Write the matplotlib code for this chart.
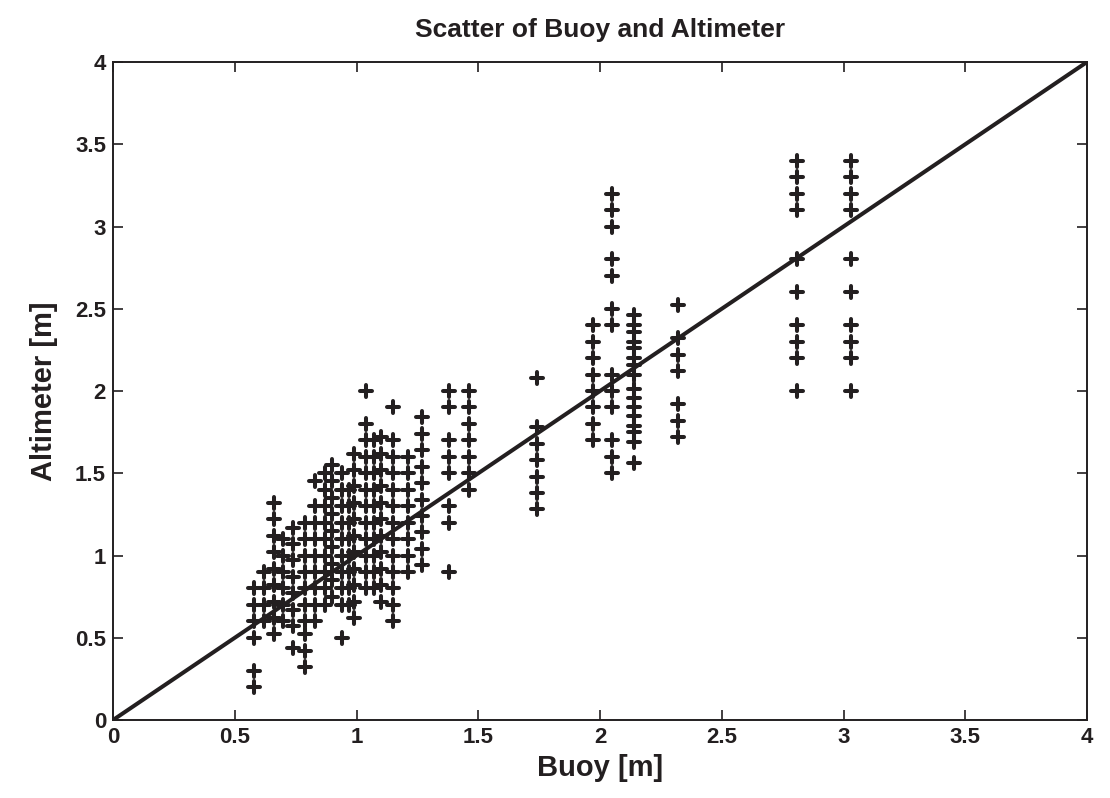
import matplotlib
matplotlib.use('Agg')
import matplotlib.pyplot as plt
from matplotlib.markers import MarkerStyle

plt.rcParams['font.family'] = ['Liberation Sans', 'DejaVu Sans']
plt.rcParams['font.weight'] = 'bold'

# buoy columns (x) and altimeter readings (y) for each column
buoy_cols = [0.58, 0.62, 0.66, 0.70, 0.74, 0.79, 0.83, 0.87, 0.90, 0.94, 0.97, 0.99,
             1.04, 1.07, 1.10, 1.15, 1.21, 1.27, 1.38, 1.46, 1.74, 1.97, 2.05, 2.14,
             2.32, 2.81, 3.03]
alt_vals = [
    [0.8, 0.7, 0.6, 0.5, 0.3, 0.2],
    [0.9, 0.8, 0.7, 0.6],
    [1.32, 1.22, 1.12, 1.02, 0.92, 0.82, 0.72, 0.62, 0.52],
    [1.1, 1.0, 0.9, 0.8, 0.7, 0.6],
    [1.17, 1.07, 0.97, 0.87, 0.77, 0.67, 0.57, 0.44],
    [1.2, 1.1, 1.0, 0.9, 0.8, 0.7, 0.6, 0.52, 0.42, 0.32],
    [1.45, 1.3, 1.2, 1.1, 1.0, 0.9, 0.8, 0.7, 0.6],
    [1.5, 1.4, 1.3, 1.2, 1.1, 1.0, 0.9, 0.8, 0.7],
    [1.55, 1.45, 1.35, 1.25, 1.15, 1.05, 0.95, 0.85, 0.75],
    [1.5, 1.4, 1.3, 1.2, 1.1, 1.0, 0.9, 0.8, 0.7, 0.5],
    [1.4, 1.3, 1.2, 1.1, 1.0, 0.9, 0.8, 0.7],
    [1.62, 1.52, 1.42, 1.32, 1.22, 1.12, 1.02, 0.92, 0.82, 0.72, 0.62],
    [2.0, 1.8, 1.7, 1.6, 1.5, 1.4, 1.3, 1.2, 1.1, 1.0, 0.9, 0.8],
    [1.7, 1.6, 1.5, 1.4, 1.3, 1.2, 1.1, 1.0, 0.9, 0.8],
    [1.72, 1.62, 1.52, 1.42, 1.32, 1.22, 1.12, 1.02, 0.92, 0.82, 0.72],
    [1.9, 1.7, 1.6, 1.5, 1.4, 1.3, 1.2, 1.1, 1.0, 0.9, 0.8, 0.7, 0.6],
    [1.6, 1.5, 1.4, 1.3, 1.2, 1.1, 1.0, 0.9],
    [1.84, 1.74, 1.64, 1.54, 1.44, 1.34, 1.24, 1.14, 1.04, 0.94],
    [2.0, 1.9, 1.7, 1.6, 1.5, 1.3, 1.2, 0.9],
    [2.0, 1.9, 1.8, 1.7, 1.6, 1.5, 1.4],
    [2.08, 1.78, 1.68, 1.58, 1.48, 1.38, 1.28],
    [2.4, 2.3, 2.2, 2.1, 2.0, 1.9, 1.8, 1.7],
    [3.2, 3.1, 3.0, 2.8, 2.7, 2.5, 2.4, 2.1, 2.0, 1.9, 1.7, 1.6, 1.5],
    [2.46, 2.40, 2.36, 2.30, 2.26, 2.20, 2.16, 2.10, 2.01, 1.96, 1.90, 1.85, 1.79, 1.75, 1.69, 1.56],
    [2.52, 2.32, 2.22, 2.12, 1.92, 1.82, 1.72],
    [3.4, 3.3, 3.2, 3.1, 2.8, 2.6, 2.4, 2.3, 2.2, 2.0],
    [3.4, 3.3, 3.2, 3.1, 2.8, 2.6, 2.4, 2.3, 2.2, 2.0],
]
ticks = [0, 0.5, 1, 1.5, 2, 2.5, 3, 3.5, 4]
tick_labels = ['0', '0.5', '1', '1.5', '2', '2.5', '3', '3.5', '4']

buoy = []
alt = []
for bx, ys in zip(buoy_cols, alt_vals):
    for yv in ys:
        buoy.append(bx)
        alt.append(yv)

ink = '#231f20'

fig = plt.figure(figsize=(11.1, 7.98), dpi=100)
ax = fig.add_axes([0.1018, 0.0977, 0.8775, 0.8246])

plus = MarkerStyle('+', capstyle='round')
ax.plot(buoy, alt, linestyle='none', marker=plus, ms=8, mew=2.9, color=ink)
ax.plot([0, 4], [0, 4], color=ink, lw=2.9)

ax.set_xlim(0, 4)
ax.set_ylim(0, 4)
ax.set_xticks(ticks)
ax.set_xticklabels(tick_labels)
ax.set_yticks(ticks)
ax.set_yticklabels(tick_labels)
ax.tick_params(direction='in', top=True, right=True, length=7, width=1.2,
               labelsize=16, colors=ink, pad=5)
for lab in ax.get_xticklabels() + ax.get_yticklabels():
    lab.set_fontweight('bold')
for s in ax.spines.values():
    s.set_linewidth(1.4)
    s.set_color(ink)

ax.set_xlabel('Buoy [m]', fontsize=21, fontweight='bold', color=ink, labelpad=4)
ax.set_ylabel('Altimeter [m]', fontsize=21, fontweight='bold', color=ink, labelpad=12)
ax.set_title('Scatter of Buoy and Altimeter', fontsize=19, fontweight='bold', color=ink, pad=18)

fig.savefig('out.png', dpi=100)
